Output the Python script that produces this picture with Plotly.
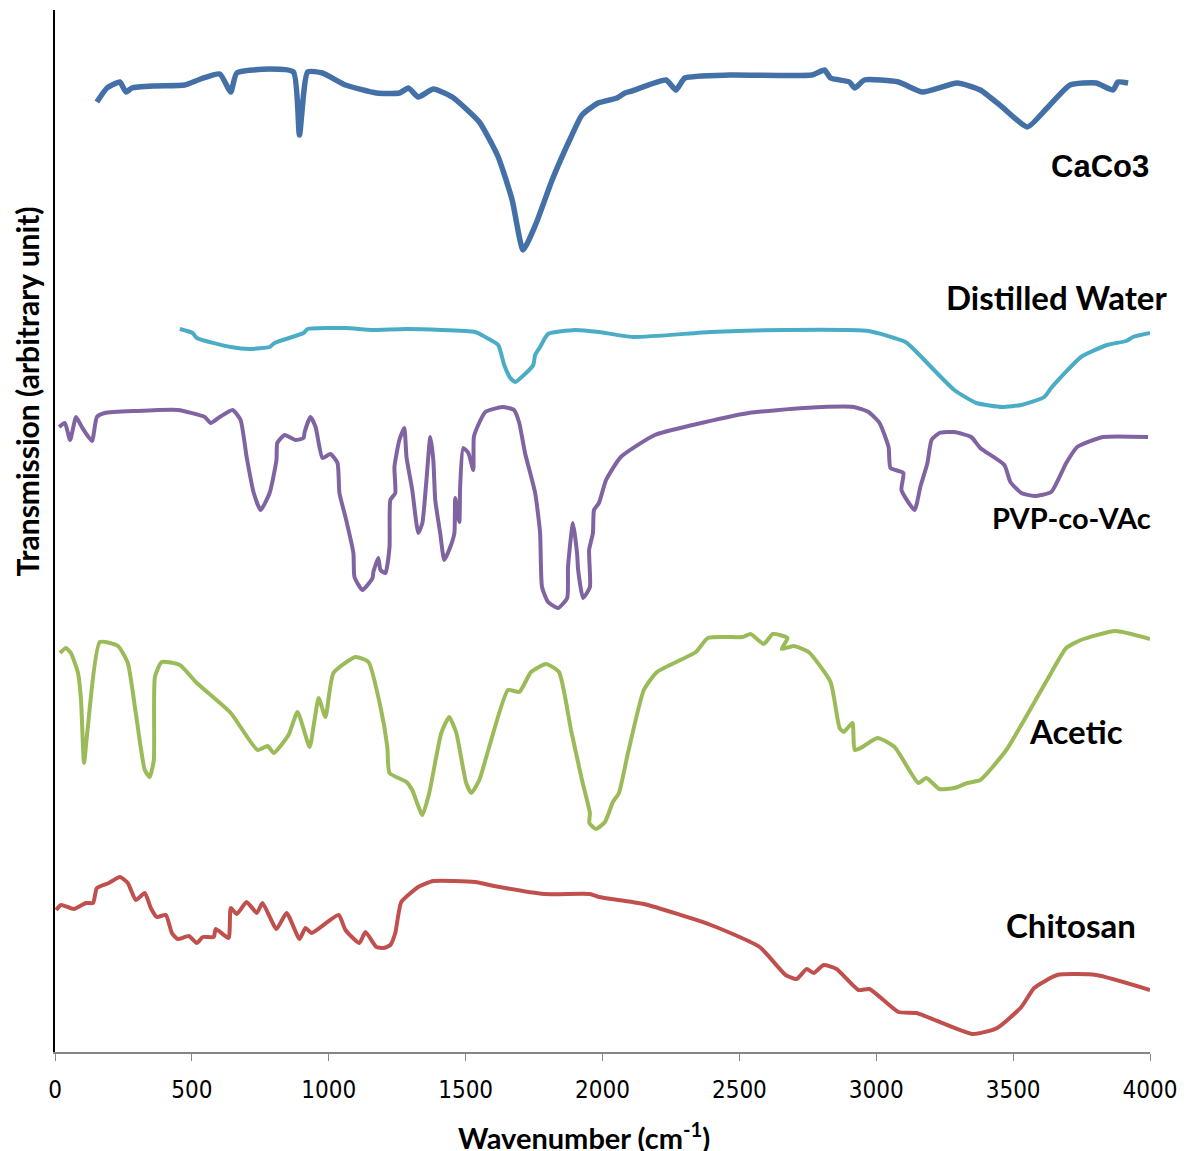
import plotly.graph_objects as go

# FTIR spectra, stacked with arbitrary vertical offsets
caco3_wn = [153, 190, 237, 259, 281, 365, 474, 532, 602, 642, 664, 784, 871, 893, 923, 977,
            1061, 1174, 1258, 1291, 1327, 1382, 1451, 1550, 1619, 1670, 1710, 1758, 1816, 1885,
            1925, 1984, 2053, 2082, 2108, 2232, 2268, 2301, 2465, 2764, 2811, 2833, 2902, 2921,
            2957, 3081, 3169, 3296, 3380, 3460, 3552, 3624, 3708, 3803, 3865, 3883, 3920]
caco3_t = [95.0, 96.4, 97.0, 96.0, 96.4, 96.6, 96.7, 97.3, 97.8, 96.0, 97.9, 98.3, 98.0, 91.7,
           98.0, 97.9, 96.7, 95.9, 95.9, 96.4, 95.5, 96.3, 95.5, 93.0, 89.5, 85.2, 80.2, 82.9,
           87.2, 91.5, 93.7, 94.9, 95.4, 95.9, 96.1, 97.2, 96.2, 97.4, 97.7, 97.7, 98.2, 97.4,
           97.0, 96.4, 97.2, 97.0, 96.0, 96.9, 96.2, 94.5, 92.5, 94.4, 96.7, 96.9, 96.2, 97.0, 96.9]

water_wn = [456, 503, 518, 642, 711, 784, 802, 908, 923, 1061, 1160, 1284, 1535, 1572, 1619,
            1641, 1663, 1681, 1717, 1747, 1754, 1772, 1801, 1900, 1987, 2111, 2396, 2669, 2972,
            3107, 3147, 3285, 3366, 3460, 3530, 3614, 3639, 3748, 3843, 3913, 3938, 4000]
water_t = [72.3, 71.9, 71.4, 70.5, 70.3, 70.5, 70.9, 71.9, 72.3, 72.4, 72.2, 72.3, 72.0, 71.5,
           70.7, 68.7, 67.4, 67.0, 67.8, 68.7, 69.7, 70.5, 71.8, 72.2, 72.0, 71.5, 72.0, 72.2,
           72.1, 71.0, 70.0, 66.2, 64.9, 64.5, 64.7, 65.5, 66.4, 69.5, 70.7, 71.1, 71.5, 71.9]

pvp_wn = [15, 36, 55, 77, 98, 135, 153, 182, 295, 449, 547, 569, 602, 649, 678, 700, 726, 751,
          784, 809, 812, 839, 879, 908, 912, 933, 952, 977, 1006, 1032, 1039, 1061, 1090, 1094,
          1123, 1160, 1163, 1181, 1189, 1207, 1222, 1225, 1243, 1240, 1258, 1276, 1284, 1305,
          1327, 1342, 1356, 1371, 1382, 1389, 1407, 1422, 1444, 1459, 1462, 1477, 1480, 1491,
          1510, 1528, 1530, 1546, 1572, 1634, 1677, 1696, 1717, 1754, 1772, 1779, 1801, 1838,
          1871, 1874, 1892, 1907, 1911, 1929, 1954, 1951, 1965, 1969, 1987, 2013, 2067, 2191,
          2330, 2534, 2738, 2917, 2972, 3012, 3045, 3052, 3099, 3092, 3140, 3161, 3187, 3202,
          3231, 3285, 3347, 3380, 3468, 3490, 3530, 3577, 3639, 3694, 3734, 3829, 3993]
pvp_t = [62.5, 62.9, 61.2, 63.5, 62.5, 61.1, 63.5, 63.9, 64.1, 64.2, 63.5, 62.9, 63.5, 64.2,
         63.2, 59.5, 55.9, 54.2, 55.9, 59.2, 60.9, 61.7, 61.2, 61.4, 62.0, 63.5, 62.5, 59.4,
         59.8, 58.9, 55.9, 53.5, 49.9, 47.5, 46.2, 47.4, 48.0, 49.4, 48.2, 47.9, 50.5, 55.2,
         55.9, 58.5, 61.2, 62.4, 59.5, 56.2, 51.9, 52.9, 56.9, 61.5, 59.2, 55.2, 51.9, 49.2,
         50.5, 51.9, 55.4, 53.0, 56.5, 60.4, 59.9, 58.2, 61.5, 62.7, 64.0, 64.5, 64.2, 62.9,
         59.9, 55.9, 51.9, 46.5, 45.0, 44.4, 45.4, 48.5, 52.9, 49.9, 48.2, 45.4, 46.5, 50.2,
         51.9, 54.2, 54.9, 57.2, 59.5, 61.7, 62.7, 63.9, 64.4, 64.5, 64.0, 62.9, 60.5, 58.4,
         57.9, 56.2, 54.2, 56.5, 58.9, 61.2, 61.9, 62.0, 61.5, 60.4, 58.7, 57.0, 55.9, 55.6,
         56.0, 58.9, 60.5, 61.5, 61.5]

acetic_wn = [18, 40, 58, 84, 95, 106, 120, 164, 230, 266, 295, 328, 346, 361, 365, 390, 456,
             518, 642, 740, 777, 799, 853, 886, 930, 948, 963, 988, 1017, 1098, 1145, 1189,
             1214, 1222, 1284, 1305, 1342, 1367, 1411, 1440, 1466, 1502, 1521, 1550, 1586, 1655,
             1696, 1739, 1794, 1841, 1885, 1925, 1954, 1952, 1976, 2009, 2038, 2060, 2093, 2151,
             2199, 2341, 2385, 2512, 2541, 2589, 2622, 2676, 2655, 2698, 2753, 2833, 2866, 2881,
             2913, 2921, 2943, 3005, 3067, 3154, 3183, 3231, 3285, 3333, 3380, 3475, 3624, 3694,
             3748, 3872, 4000]
acetic_t = [39.9, 40.4, 39.9, 37.9, 35.2, 28.9, 32.5, 41.0, 40.6, 38.9, 33.9, 28.2, 27.5, 29.2,
            37.5, 39.0, 38.7, 36.9, 33.9, 30.2, 30.6, 29.9, 31.7, 34.0, 30.5, 33.2, 35.4, 33.5,
            37.9, 39.5, 39.0, 34.5, 30.5, 27.9, 27.0, 26.2, 23.7, 25.9, 31.9, 33.5, 31.9, 26.9,
            25.9, 27.2, 30.5, 36.2, 36.0, 38.0, 38.8, 38.0, 32.2, 27.2, 23.9, 22.9, 22.3, 23.0,
            25.0, 25.9, 29.9, 36.2, 38.0, 40.0, 41.4, 41.5, 41.8, 40.8, 41.8, 41.4, 40.3, 40.6,
            40.0, 37.0, 32.4, 32.0, 32.9, 30.2, 30.4, 31.4, 30.5, 26.9, 27.4, 26.3, 26.4, 26.9,
            27.2, 30.2, 37.2, 40.4, 41.2, 42.1, 41.3]

chitosan_wn = [4, 22, 69, 113, 139, 153, 197, 237, 266, 295, 328, 350, 372, 405, 427, 448, 489,
               518, 540, 580, 587, 634, 642, 664, 700, 737, 758, 809, 846, 893, 915, 937, 1036,
               1061, 1112, 1134, 1174, 1200, 1225, 1243, 1265, 1327, 1382, 1535, 1604, 1787,
               1954, 1987, 2151, 2396, 2574, 2669, 2709, 2746, 2771, 2808, 2855, 2935, 2975,
               3081, 3147, 3351, 3442, 3530, 3577, 3661, 3803, 4000]
chitosan_t = [14.2, 14.7, 14.3, 14.9, 14.9, 16.4, 16.9, 17.5, 16.9, 15.2, 15.9, 14.4, 13.5, 13.7,
              11.9, 11.3, 11.6, 10.9, 11.5, 11.5, 12.3, 11.4, 14.4, 13.8, 15.0, 13.9, 14.9, 12.3,
              13.9, 11.3, 12.4, 11.9, 13.7, 12.2, 10.9, 12.0, 10.5, 10.4, 10.7, 11.9, 15.0, 16.5,
              17.1, 17.0, 16.6, 15.8, 15.8, 15.5, 14.8, 12.7, 10.5, 7.7, 7.3, 8.3, 7.9, 8.7, 8.3,
              6.2, 6.3, 4.0, 3.9, 1.8, 2.4, 4.5, 6.4, 7.7, 7.7, 6.2]

x_ticks = [0, 500, 1000, 1500, 2000, 2500, 3000, 3500, 4000]

series = [
    ("CaCo3", caco3_wn, caco3_t, "#4470A8", 5.5),
    ("Distilled Water", water_wn, water_t, "#4BACC6", 4),
    ("PVP-co-VAc", pvp_wn, pvp_t, "#8064A2", 4),
    ("Acetic", acetic_wn, acetic_t, "#9BBB59", 4),
    ("Chitosan", chitosan_wn, chitosan_t, "#C0504D", 4),
]

# label anchor positions (wavenumber, transmission)
label_pos = {
    "CaCo3": (3818, 88.6),
    "Distilled Water": (3658, 75.5),
    "PVP-co-VAc": (3712, 53.5),
    "Acetic": (3730, 32.1),
    "Chitosan": (3712, 12.7),
}
label_style = {
    "CaCo3": ("Liberation Sans, Arial, sans-serif", 31),
    "Distilled Water": ("Lato, Open Sans, sans-serif", 33),
    "PVP-co-VAc": ("Lato, Open Sans, sans-serif", 29),
    "Acetic": ("Lato, Open Sans, sans-serif", 33),
    "Chitosan": ("Lato, Open Sans, sans-serif", 33),
}

fig = go.Figure()
for name, wn, t, color, width in series:
    fig.add_trace(go.Scatter(
        x=wn, y=t, mode="lines", name=name,
        line=dict(color=color, width=width, shape="spline", smoothing=0.5),
        showlegend=False,
    ))

for name, (lx, ly) in label_pos.items():
    family, size = label_style[name]
    fig.add_annotation(x=lx, y=ly, xref="x", yref="y", text="<b>" + name + "</b>",
                       showarrow=False, font=dict(family=family, size=size, color="black"),
                       xanchor="center", yanchor="middle")

title_font = dict(family="Lato, Open Sans, sans-serif", size=30, color="black")

# axis titles
fig.add_annotation(x=-0.0255, y=0.634, xref="paper", yref="paper",
                   text="<b>Transmission (arbitrary unit)</b>", textangle=-90,
                   showarrow=False, font=title_font,
                   xanchor="center", yanchor="middle")
fig.add_annotation(x=0.483, y=-0.0805, xref="paper", yref="paper",
                   text="<b>Wavenumber (cm<sup>-1</sup>)</b>",
                   showarrow=False, font=dict(family="Lato, Open Sans, sans-serif", size=29,
                                              color="black"),
                   xanchor="center", yanchor="middle")

fig.update_layout(
    width=1187, height=1151, autosize=False,
    margin=dict(l=55, r=35, t=10, b=99, pad=0),
    paper_bgcolor="white", plot_bgcolor="white",
    xaxis=dict(
        range=[0, 4000], tickvals=x_ticks, ticktext=[str(v) for v in x_ticks],
        showgrid=False, zeroline=False, showline=True, linecolor="#868686", linewidth=1.5,
        ticks="outside", ticklen=7, tickcolor="#868686", tickwidth=1,
        tickfont=dict(family="Liberation Sans Narrow, DejaVu Sans Condensed, Liberation Sans",
                      size=24, color="black"),
        ticklabelstandoff=8,
    ),
    yaxis=dict(
        range=[0, 104.2], showgrid=False, zeroline=False, showticklabels=False,
        showline=True, linecolor="black", linewidth=1.5, ticks="",
    ),
)

fig.write_html("out.html")
